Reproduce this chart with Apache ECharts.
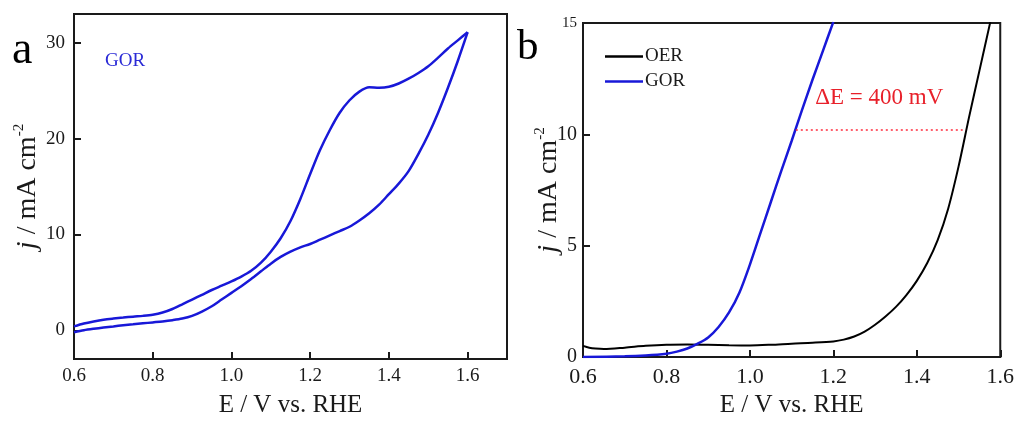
<!DOCTYPE html>
<html>
<head>
<meta charset="utf-8">
<script src="https://cdn.jsdelivr.net/npm/echarts@6/dist/echarts.min.js"></script>
<style>
  html, body { margin: 0; padding: 0; background: #fff; }
  #chart { width: 1017px; height: 423px; }
</style>
</head>
<body>
<div id="chart"></div>
<script>
// (a) cyclic voltammogram of glycerol oxidation, E / V vs. RHE
const cvPotential = [0.600, 0.625, 0.650, 0.675, 0.700, 0.725, 0.750, 0.775, 0.800, 0.825,
                     0.850, 0.875, 0.900, 0.925, 0.950, 0.975, 1.000, 1.025, 1.050, 1.075,
                     1.100, 1.125, 1.150, 1.175, 1.200, 1.225, 1.250, 1.275, 1.300, 1.325,
                     1.350, 1.375, 1.400, 1.425, 1.450, 1.475, 1.500, 1.525, 1.550, 1.575, 1.600];
const cvForward = [0.40, 0.70, 0.92, 1.10, 1.22, 1.32, 1.42, 1.50, 1.62, 1.85,
                   2.22, 2.70, 3.20, 3.70, 4.20, 4.65, 5.10, 5.60, 6.20, 7.05,
                   8.20, 9.60, 11.4, 13.7, 16.3, 18.8, 20.9, 22.7, 24.0, 24.9,
                   25.35, 25.30, 25.40, 25.75, 26.25, 26.85, 27.55, 28.45, 29.40, 30.25, 31.10];
const cvReverse = [-0.20, 0.00, 0.15, 0.28, 0.40, 0.52, 0.62, 0.72, 0.82, 0.92,
                   1.05, 1.22, 1.50, 1.95, 2.50, 3.20, 3.90, 4.60, 5.35, 6.15,
                   6.95, 7.65, 8.20, 8.65, 9.00, 9.45, 9.90, 10.35, 10.80, 11.45,
                   12.20, 13.10, 14.20, 15.30, 16.60, 18.40, 20.40, 22.70, 25.30, 28.10, 31.10];

// (b) polarization curves
const oerPotential = [0.600, 0.615, 0.630, 0.650, 0.700, 0.750, 0.800, 0.850, 0.900, 0.950,
                      1.000, 1.050, 1.100, 1.150, 1.200, 1.225, 1.250, 1.275, 1.300, 1.325,
                      1.350, 1.375, 1.400, 1.425, 1.450, 1.475, 1.500, 1.525, 1.550, 1.575, 1.590];
const oerCurrent = [0.50, 0.42, 0.38, 0.36, 0.42, 0.50, 0.55, 0.56, 0.55, 0.53,
                    0.52, 0.55, 0.60, 0.64, 0.70, 0.78, 0.92, 1.14, 1.45, 1.82,
                    2.25, 2.78, 3.42, 4.22, 5.25, 6.65, 8.55, 10.75, 12.85, 14.95, 16.2];
const gorPotential = [0.600, 0.700, 0.750, 0.800, 0.825, 0.850, 0.875, 0.900, 0.925, 0.950,
                      0.975, 1.000, 1.025, 1.050, 1.075, 1.100, 1.125, 1.150, 1.175, 1.200];
const gorCurrent = [0.00, 0.03, 0.07, 0.15, 0.24, 0.38, 0.60, 0.88, 1.35, 2.00,
                    2.90, 4.15, 5.55, 6.95, 8.35, 9.70, 11.1, 12.45, 13.75, 15.05];

// potentials at j = 10.2 mA cm-2 for GOR and OER
const deltaEStart = 1.11;
const deltaEEnd = 1.51;
const deltaELevel = 10.2;

const xTicksA = [0.6, 0.8, 1.0, 1.2, 1.4, 1.6];
const yTicksA = [0, 10, 20, 30];
const xTicksB = [0.6, 0.8, 1.0, 1.2, 1.4, 1.6];
const yTicksB = [0, 5, 10, 15];

const pair = (xs, ys) => xs.map((x, i) => [x, ys[i]]);

const FONT = 'Liberation Serif';
const INK = '#1a1a1a';
const BLUE = '#1818d8';

function xAxisOf(gridIndex, min, max, ticks, labelSize, labelMargin, gap) {
  return {
    type: 'value', gridIndex, min, max,
    name: 'E / V vs. RHE', nameLocation: 'middle', nameGap: gap, nameMoveOverlap: false,
    nameTextStyle: { fontFamily: FONT, fontSize: 25, color: INK },
    axisLine: { show: true, onZero: false, lineStyle: { color: INK, width: 2 } },
    axisTick: { show: true, inside: true, length: 7, lineStyle: { color: INK, width: 2 }, customValues: ticks },
    axisLabel: { fontFamily: FONT, fontSize: labelSize, color: INK, margin: labelMargin,
                 customValues: ticks, formatter: v => v.toFixed(1) },
    splitLine: { show: false }
  };
}
function yAxisOf(gridIndex, min, max, ticks, gap, labelSize, labelMargin, topLabel) {
  return {
    type: 'value', gridIndex, min, max,
    name: '{i|j} / mA cm{s|-2}', nameLocation: 'middle', nameGap: gap, nameRotate: 90,
    nameMoveOverlap: false,
    nameTextStyle: {
      fontFamily: FONT, fontSize: 28, color: INK, lineHeight: 32,
      rich: {
        i: { fontFamily: FONT, fontSize: 28, fontStyle: 'italic', color: INK },
        s: { fontFamily: FONT, fontSize: 15, color: INK, verticalAlign: 'top', lineHeight: 32 }
      }
    },
    axisLine: { show: true, onZero: false, lineStyle: { color: INK, width: 2 } },
    axisTick: { show: true, inside: true, length: 7, lineStyle: { color: INK, width: 2 }, customValues: ticks },
    axisLabel: {
      fontFamily: FONT, fontSize: labelSize, color: INK, margin: labelMargin, customValues: ticks,
      formatter: v => (topLabel && v === max ? '{t|' + v + '}' : String(v)),
      rich: { t: { fontFamily: FONT, fontSize: 15, color: INK } }
    },
    splitLine: { show: false }
  };
}

const option = {
  animation: false,
  backgroundColor: '#fff',
  grid: [
    { left: 74, top: 14, width: 433, height: 355, show: true, borderColor: INK, borderWidth: 2 },
    { left: 583, top: 23, width: 420, height: 344, show: true, borderColor: INK, borderWidth: 2 }
  ],
  xAxis: [
    xAxisOf(0, 0.6, 1.7, xTicksA, 19, 8, 34),
    xAxisOf(1, 0.6, 1.6, xTicksB, 22, 9, 36)
  ],
  yAxis: [
    yAxisOf(0, -3, 33, yTicksA, 30, 19, 9, false),
    yAxisOf(1, 0, 15, yTicksB, 18, 20, 6, true)
  ],
  legend: {
    left: 600, top: 42, orient: 'vertical', itemGap: 6,
    itemWidth: 38, itemHeight: 2.5, icon: 'rect',
    textStyle: { fontFamily: FONT, fontSize: 19, color: INK, padding: [0, 0, 0, -3] },
    data: ['OER', 'GOR']
  },
  series: [
    { name: 'GOR-CV forward', type: 'line', xAxisIndex: 0, yAxisIndex: 0,
      data: pair(cvPotential, cvForward), showSymbol: false, smooth: 0.3,
      lineStyle: { color: BLUE, width: 2.5 } },
    { name: 'GOR-CV reverse', type: 'line', xAxisIndex: 0, yAxisIndex: 0,
      data: pair(cvPotential, cvReverse), showSymbol: false, smooth: 0.3,
      lineStyle: { color: BLUE, width: 2.5 } },
    { name: 'OER', type: 'line', xAxisIndex: 1, yAxisIndex: 1,
      data: pair(oerPotential, oerCurrent), showSymbol: false, smooth: 0.3,
      color: '#000', lineStyle: { color: '#000', width: 2 } },
    { name: 'GOR', type: 'line', xAxisIndex: 1, yAxisIndex: 1,
      data: pair(gorPotential, gorCurrent), showSymbol: false, smooth: 0.3,
      color: BLUE, lineStyle: { color: BLUE, width: 2.5 },
      markLine: {
        silent: true, symbol: 'none', animation: false,
        lineStyle: { color: '#ff2a3c', type: [2, 3], width: 1.5, opacity: 1 },
        label: { show: true, position: 'middle', distance: 20, formatter: 'ΔE = 400 mV',
                 fontFamily: FONT, fontSize: 23, color: '#e8202a' },
        emphasis: { disabled: true },
        data: [[{ coord: [deltaEStart, deltaELevel] }, { coord: [deltaEEnd, deltaELevel] }]]
      } }
  ],
  graphic: [
    { type: 'text', left: 12, top: 28, style: { text: 'a', font: '46px "Liberation Serif"', fill: '#000' } },
    { type: 'text', left: 517, top: 26, style: { text: 'b', font: '43px "Liberation Serif"', fill: '#000' } },
    { type: 'text', left: 105, top: 52, style: { text: 'GOR', font: '19px "Liberation Serif"', fill: '#2a2ad6' } }
  ]
};

const chart = echarts.init(document.getElementById('chart'), null, { renderer: 'canvas' });
chart.setOption(option);
</script>
</body>
</html>
